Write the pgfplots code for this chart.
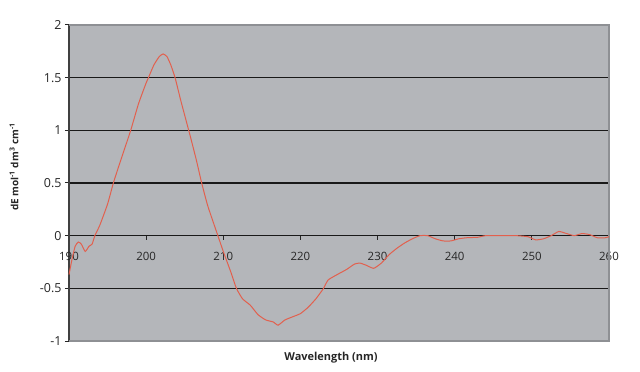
\documentclass[border=0pt]{standalone}
\usepackage{pgfplots}
\pgfplotsset{compat=1.18}
\usepackage{fontspec}
\setmainfont{Open Sans}
\definecolor{bgc}{HTML}{B4B6BA}
\definecolor{curve}{HTML}{E2604E}
\definecolor{frame}{HTML}{8E9094}
\begin{document}
\begin{tikzpicture}
\useasboundingbox (-69bp,-31bp) rectangle (571bp,341bp);
\begin{axis}[
  anchor=south west, at={(0,0)},
  scale only axis, width=540bp, height=316bp,
  xmin=190, xmax=260, ymin=-1, ymax=2,
  axis x line*=middle, axis y line*=left,
  hide obscured x ticks=false,
  axis background/.style={fill=bgc},
  x axis line style={draw=none},
  y axis line style={draw=black!75, line width=1.2bp},
  xtick={190,200,...,260}, ytick={-1,-0.5,...,2},
  xticklabel style={font=\fontsize{11.5}{12}\selectfont, text=black!85, yshift=-9bp},
  yticklabel style={font=\fontsize{12.5}{13}\selectfont, text=black!85, /pgf/number format/fixed},
  /pgf/number format/assume math mode=true,
  ymajorgrids, grid style={black!90, line width=1.1bp},
  major tick length=4bp, tick align=outside,
  tick style={black!85, line width=1bp},
  clip=false,
]
\draw[frame, line width=1.2bp] (rel axis cs:0,1) -- (rel axis cs:1,1) -- (rel axis cs:1,0) -- (rel axis cs:0,0);
\addplot[curve, line width=1bp, smooth, tension=0.3] coordinates {
(190,-0.37) (190.4,-0.22) (190.8,-0.1) (191.2,-0.06) (191.6,-0.08) (192.1,-0.15)
(192.6,-0.1) (193,-0.08) (193.35,0) (194,0.1) (195,0.3) (195.75,0.5) (196.5,0.67)
(197,0.78) (198,1.0) (199,1.25) (200,1.45) (200.3,1.5) (201,1.62) (201.7,1.7)
(202.2,1.725) (202.7,1.7) (203.2,1.62) (203.75,1.5) (204.5,1.28) (205.7,0.95)
(206.5,0.72) (207.2,0.5) (208,0.28) (209.3,0) (210,-0.15) (211,-0.35) (211.7,-0.5)
(212.5,-0.6) (213.5,-0.66) (214.5,-0.75) (215.5,-0.8) (216.5,-0.82) (217.1,-0.85)
(218,-0.8) (219,-0.77) (220,-0.74) (221,-0.68) (222,-0.6) (223,-0.5) (223.6,-0.42)
(225,-0.36) (226,-0.32) (227,-0.27) (227.7,-0.26) (228.5,-0.28) (229.5,-0.31)
(230.5,-0.26) (231.5,-0.18) (232.5,-0.12) (233.5,-0.07) (234.5,-0.03) (235.5,0)
(236.5,0) (237.5,-0.03) (238.5,-0.05) (239.5,-0.05) (240.5,-0.03) (241.5,-0.02)
(243,-0.015) (244,0) (246,0) (248,0) (249.5,-0.01) (250.5,-0.04) (251.5,-0.03)
(252.5,0) (253.5,0.04) (254.5,0.02) (255.5,0) (256.5,0.02) (257.5,0.01)
(258.5,-0.02) (259.5,-0.02) (260,-0.01)
};
\end{axis}
\node[rotate=90, font=\bfseries\fontsize{10}{11}\selectfont, text=black!85] at (-55bp,174bp)
  {dE mol\textsuperscript{-1} dm\textsuperscript{3} cm\textsuperscript{-1}};
\node[font=\bfseries\fontsize{11}{12}\selectfont, text=black!85] at (262bp,-17bp) {Wavelength (nm)};
\end{tikzpicture}
\end{document}
